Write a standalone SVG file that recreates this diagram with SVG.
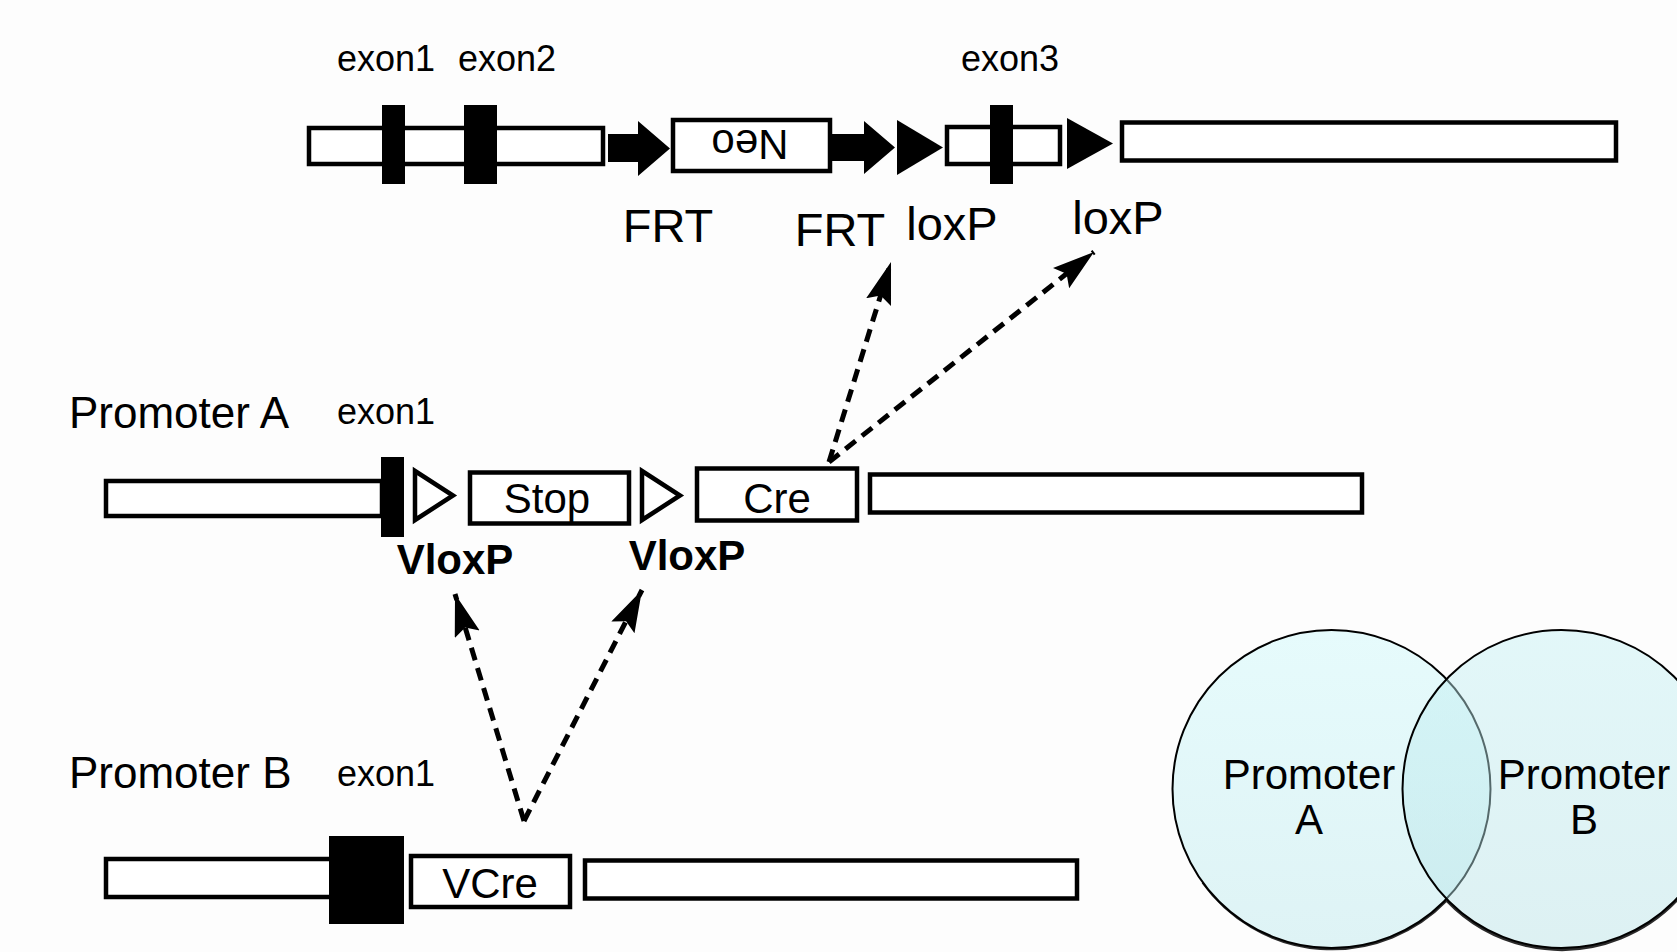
<svg xmlns="http://www.w3.org/2000/svg" width="1677" height="952" viewBox="0 0 1677 952">
  <style>
    .box { fill: #ffffff; stroke: #000000; stroke-width: 4.5; }
    .blk { fill: #000000; stroke: none; }
    .hollow { fill: #ffffff; stroke: #000000; stroke-width: 4.5; stroke-linejoin: miter; }
    .lbl { font-family: "Liberation Sans", Arial, sans-serif; fill: #000000; }
    .exon { font-size: 36px; text-anchor: middle; }
    .site { font-size: 47px; text-anchor: middle; }
    .prom { font-size: 44px; }
    .inbox { font-size: 42px; text-anchor: middle; }
    .vlox { font-size: 42px; font-weight: bold; text-anchor: middle; }
    .dash { fill: none; stroke: #000000; stroke-width: 5; stroke-dasharray: 13 8; marker-end: url(#head); }
    .rim { fill: none; stroke: #2a2a2a; stroke-width: 3; stroke-linecap: butt; }
  </style>
  <defs>
    <marker id="head" markerUnits="userSpaceOnUse" markerWidth="44" markerHeight="28" viewBox="0 0 44 28" refX="42" refY="13" orient="auto">
      <path d="M0,0 L42,13 L0,26 L7,13 z" fill="#000000"/>
    </marker>
    <linearGradient id="cyanA" x1="0" y1="0" x2="0" y2="1">
      <stop offset="0" stop-color="#e6fbfc"/>
      <stop offset="1" stop-color="#def3f5"/>
    </linearGradient>
    <linearGradient id="cyanB" x1="0" y1="0" x2="0" y2="1">
      <stop offset="0" stop-color="#c2f0f3"/>
      <stop offset="1" stop-color="#b6e2e6"/>
    </linearGradient>
  </defs>

  <rect x="0" y="0" width="1677" height="952" fill="#fdfdfd"/>

  <!-- Targeted allele: exons 1-3, FRT-flanked Neo, loxP sites -->
  <g id="allele-top">
    <rect class="box" x="309" y="128" width="294" height="36"/>
    <rect class="blk" x="382" y="105" width="23" height="79"/>
    <rect class="blk" x="464" y="105" width="33" height="79"/>
    <polygon class="blk" points="608,134 638,134 638,121 670,148.5 638,176 638,162 608,162"/>
    <rect class="box" x="673" y="120" width="157" height="51"/>
    <text class="lbl inbox" transform="translate(750,145) rotate(180)" x="0" y="15">Neo</text>
    <polygon class="blk" points="832,134 864,134 864,121 895,147.5 864,174 864,161 832,161"/>
    <polygon class="blk" points="897,120 943,147.5 897,175"/>
    <rect class="box" x="947" y="127" width="113" height="37"/>
    <rect class="blk" x="990" y="105" width="23" height="79"/>
    <polygon class="blk" points="1067,118 1113,143.5 1067,169"/>
    <rect class="box" x="1122" y="122.5" width="494" height="38"/>
    <text class="lbl exon" x="386" y="71">exon1</text>
    <text class="lbl exon" x="507" y="71">exon2</text>
    <text class="lbl exon" x="1010" y="71">exon3</text>
    <text class="lbl site" x="668" y="242">FRT</text>
    <text class="lbl site" x="840" y="246">FRT</text>
    <text class="lbl site" x="952" y="240">loxP</text>
    <text class="lbl site" x="1118" y="234">loxP</text>
  </g>

  <!-- Promoter A driven Stop-Cre cassette -->
  <g id="allele-promoter-a">
    <text class="lbl prom" x="69" y="428">Promoter A</text>
    <text class="lbl exon" x="386" y="424">exon1</text>
    <rect class="box" x="106" y="481" width="276" height="35"/>
    <rect class="blk" x="381" y="457" width="23" height="80"/>
    <polygon class="hollow" points="415,471 453,495.5 415,520"/>
    <rect class="box" x="470" y="472.5" width="159" height="51"/>
    <text class="lbl inbox" x="547" y="513">Stop</text>
    <polygon class="hollow" points="642,471 680,495.5 642,520"/>
    <rect class="box" x="697" y="468.5" width="160" height="52"/>
    <text class="lbl inbox" x="777" y="513">Cre</text>
    <rect class="box" x="870" y="474.5" width="492" height="38"/>
    <text class="lbl vlox" x="455" y="574">VloxP</text>
    <text class="lbl vlox" x="687" y="570">VloxP</text>
  </g>

  <!-- Promoter B driven VCre -->
  <g id="allele-promoter-b">
    <text class="lbl prom" x="69" y="788">Promoter B</text>
    <text class="lbl exon" x="386" y="786">exon1</text>
    <rect class="box" x="106" y="859" width="226" height="38"/>
    <rect class="blk" x="329" y="836" width="75" height="88"/>
    <rect class="box" x="411" y="856" width="159" height="51"/>
    <text class="lbl inbox" x="490" y="898">VCre</text>
    <rect class="box" x="585" y="860.5" width="492" height="38"/>
  </g>

  <!-- Recombinase targeting connectors -->
  <g id="connectors">
    <path class="dash" d="M829,462 L891,262"/>
    <path class="dash" d="M829,462 L1094,252"/>
    <path class="dash" d="M524,821 L455,594"/>
    <path class="dash" d="M524,821 L642,590"/>
  </g>

  <!-- Expression overlap of the two promoters -->
  <g id="venn">
    <!-- darker lower rim along the outer bottom edges -->
    <path class="rim" d="M1202.9,882.5 A159,159 0 0 0 1446.5,900.3"/>
    <path class="rim" d="M1446.5,900.3 A159,159 0 0 0 1720.5,790.5"/>
    <circle cx="1331.5" cy="789" r="159" fill="url(#cyanA)" stroke="#000000" stroke-width="2"/>
    <circle cx="1561.5" cy="789" r="159" fill="url(#cyanB)" fill-opacity="0.45" stroke="#000000" stroke-width="2"/>
    <text class="lbl inbox" x="1309" y="789">Promoter</text>
    <text class="lbl inbox" x="1309" y="834">A</text>
    <text class="lbl inbox" x="1584" y="789">Promoter</text>
    <text class="lbl inbox" x="1584" y="834">B</text>
  </g>
</svg>
